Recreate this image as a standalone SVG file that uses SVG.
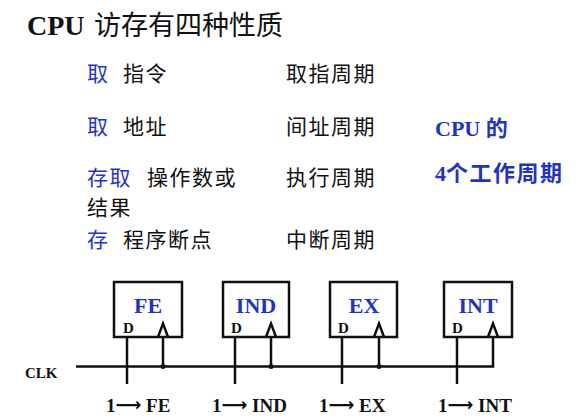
<svg xmlns="http://www.w3.org/2000/svg" width="578" height="420" viewBox="0 0 578 420">
  <style>
    .cjk { font-family: "Noto Sans CJK SC", "Noto Sans", sans-serif; fill: #111; }
    .blue { fill: #1f33c4; }
    .ser { font-family: "Liberation Serif", "Noto Sans CJK SC", serif; font-weight: bold; }
    .box { fill: #fff; stroke: #111; stroke-width: 2.5; }
    .wire { fill: none; stroke: #111; stroke-width: 2.5; }
    .lbl { font-family: "Liberation Serif", serif; font-weight: bold; font-size: 22px; fill: #1f33c4; text-anchor: middle; }
    .d { font-family: "Liberation Serif", serif; font-weight: bold; font-size: 15px; fill: #111; }
    .out { font-family: "Liberation Serif", serif; font-weight: bold; font-size: 19px; fill: #111; }
    .arr { font-family: "DejaVu Sans", sans-serif; font-weight: bold; font-size: 18px; }
  </style>

  <rect width="578" height="420" fill="#fff"/>

  <!-- heading -->
  <text x="27" y="35" class="ser" font-size="28" fill="#111">CPU</text>
  <text x="94" y="35" class="cjk" font-size="27">访存有四种性质</text>

  <!-- access kinds and their cycles -->
  <g font-size="21" letter-spacing="1.5">
    <text x="87" y="81" class="cjk"><tspan class="blue">取</tspan></text>
    <text x="123" y="81" class="cjk">指令</text>
    <text x="286" y="81" class="cjk">取指周期</text>

    <text x="87" y="134" class="cjk"><tspan class="blue">取</tspan></text>
    <text x="123" y="134" class="cjk">地址</text>
    <text x="286" y="134" class="cjk">间址周期</text>

    <text x="87" y="185" class="cjk"><tspan class="blue">存取</tspan></text>
    <text x="147" y="185" class="cjk">操作数或</text>
    <text x="87" y="215" class="cjk">结果</text>
    <text x="286" y="185" class="cjk">执行周期</text>

    <text x="87" y="247" class="cjk"><tspan class="blue">存</tspan></text>
    <text x="123" y="247" class="cjk">程序断点</text>
    <text x="286" y="247" class="cjk">中断周期</text>
  </g>

  <!-- side note -->
  <text x="435" y="136" class="ser blue" font-size="22">CPU <tspan font-family="Noto Sans CJK SC, sans-serif">的</tspan></text>
  <text x="435" y="181" class="ser blue" font-size="22">4<tspan font-family="Noto Sans CJK SC, sans-serif" letter-spacing="1.5">个工作周期</tspan></text>

  <!-- clock and data wiring -->
  <g id="connectors">
    <path class="wire" d="M76 366.5 H493 V337"/>
    <path class="wire" d="M127 337 V384 M163 337 V366.5"/>
    <path class="wire" d="M235 337 V384 M271 337 V366.5"/>
    <path class="wire" d="M342 337 V384 M379 337 V366.5"/>
    <path class="wire" d="M457 337 V384"/>
    <circle cx="163" cy="366.5" r="2.5" fill="#111"/>
    <circle cx="271" cy="366.5" r="2.5" fill="#111"/>
    <circle cx="379" cy="366.5" r="2.5" fill="#111"/>
  </g>
  <text x="25" y="378" class="d" font-size="17.5">CLK</text>

  <!-- cycle flip-flops -->
  <g id="ff-FE">
    <rect class="box" x="114" y="282" width="68" height="55"/>
    <text class="lbl" x="148" y="313">FE</text>
    <text class="d" x="123" y="333">D</text>
    <path class="wire" d="M158 337 L163 323.5 L168 337"/>
  </g>
  <g id="ff-IND">
    <rect class="box" x="223" y="282" width="66" height="55"/>
    <text class="lbl" x="256" y="313">IND</text>
    <text class="d" x="231" y="333">D</text>
    <path class="wire" d="M266 337 L271 323.5 L276 337"/>
  </g>
  <g id="ff-EX">
    <rect class="box" x="330" y="282" width="67" height="55"/>
    <text class="lbl" x="364" y="313">EX</text>
    <text class="d" x="338" y="333">D</text>
    <path class="wire" d="M374 337 L379 323.5 L384 337"/>
  </g>
  <g id="ff-INT">
    <rect class="box" x="444" y="282" width="68" height="55"/>
    <text class="lbl" x="478" y="313">INT</text>
    <text class="d" x="452" y="333">D</text>
    <path class="wire" d="M488 337 L493 323.5 L498 337"/>
  </g>

  <!-- set inputs -->
  <text class="out" x="106" y="412">1<tspan class="arr" dy="-1">⟶</tspan><tspan dy="1"> FE</tspan></text>
  <text class="out" x="212" y="412">1<tspan class="arr" dy="-1">⟶</tspan><tspan dy="1"> IND</tspan></text>
  <text class="out" x="319" y="412">1<tspan class="arr" dy="-1">⟶</tspan><tspan dy="1"> EX</tspan></text>
  <text class="out" x="438" y="412">1<tspan class="arr" dy="-1">⟶</tspan><tspan dy="1"> INT</tspan></text>
</svg>
